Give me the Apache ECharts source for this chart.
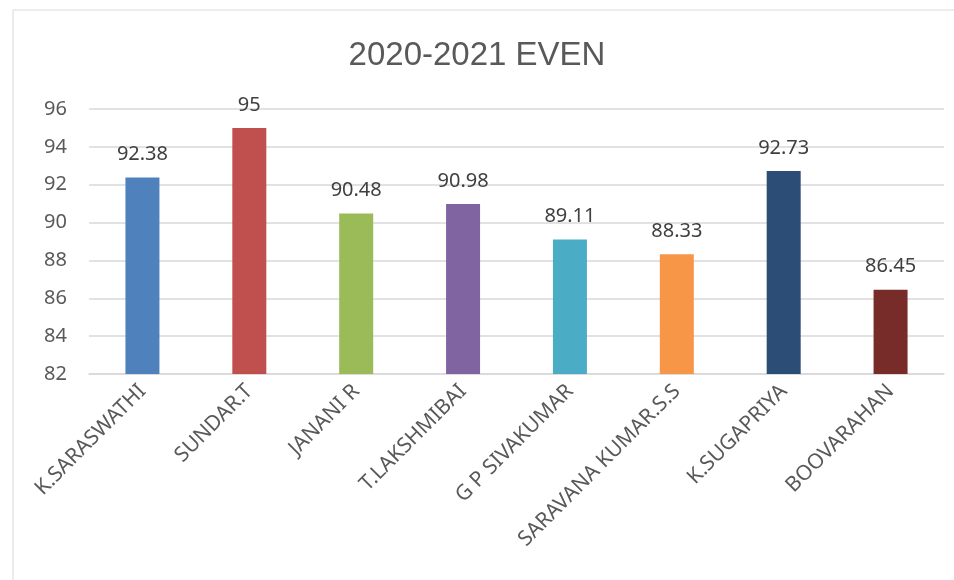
<!DOCTYPE html>
<html>
<head>
<meta charset="utf-8">
<script src="https://cdn.jsdelivr.net/npm/echarts@6/dist/echarts.min.js"></script>
<style>
  html, body { margin: 0; padding: 0; background: #fff; }
  #main { width: 954px; height: 580px; }
</style>
</head>
<body>
<div id="main"></div>
<script>
var names = ['K.SARASWATHI', 'SUNDAR.T', 'JANANI R', 'T.LAKSHMIBAI', 'G P SIVAKUMAR', 'SARAVANA KUMAR.S.S', 'K.SUGAPRIYA', 'BOOVARAHAN'];
var scores = [92.38, 95, 90.48, 90.98, 89.11, 88.33, 92.73, 86.45];
var barColors = ['#4F81BD', '#C0504D', '#9BBB59', '#8064A2', '#4BACC6', '#F79646', '#2C4D75', '#772C2A'];

var labelFont = 'Noto Sans';

var myChart = echarts.init(document.getElementById('main'));
myChart.setOption({
    animation: false,
    graphic: [{
        type: 'rect',
        shape: { x: 13, y: 10, width: 960, height: 600 },
        style: { fill: 'none', stroke: '#d9d9d9', lineWidth: 1 },
        silent: true
    }],
    title: {
        text: '2020-2021 EVEN',
        left: 'center',
        top: 34,
        textStyle: {
            fontFamily: 'Liberation Sans',
            fontSize: 33,
            fontWeight: 'normal',
            color: '#595959'
        }
    },
    grid: { left: 89, right: 10, top: 109, bottom: 206 },
    xAxis: {
        type: 'category',
        data: names,
        axisLine: { lineStyle: { color: '#d9d9d9', width: 1.5 } },
        axisTick: { show: false },
        axisLabel: {
            rotate: 45,
            margin: 14,
            interval: 0,
            fontFamily: labelFont,
            fontSize: 21,
            color: '#595959'
        }
    },
    yAxis: {
        type: 'value',
        min: 82,
        max: 96,
        interval: 2,
        axisLine: { show: false },
        axisTick: { show: false },
        splitLine: { lineStyle: { color: '#d9d9d9', width: 1.5 } },
        axisLabel: {
            margin: 22,
            fontFamily: labelFont,
            fontSize: 20,
            color: '#595959'
        }
    },
    series: [{
        type: 'bar',
        data: scores.map(function (v, i) {
            return { value: v, itemStyle: { color: barColors[i] } };
        }),
        barWidth: 34,
        label: {
            show: true,
            position: 'top',
            distance: 13,
            fontFamily: labelFont,
            fontSize: 20,
            color: '#404040'
        }
    }]
});
</script>
</body>
</html>
